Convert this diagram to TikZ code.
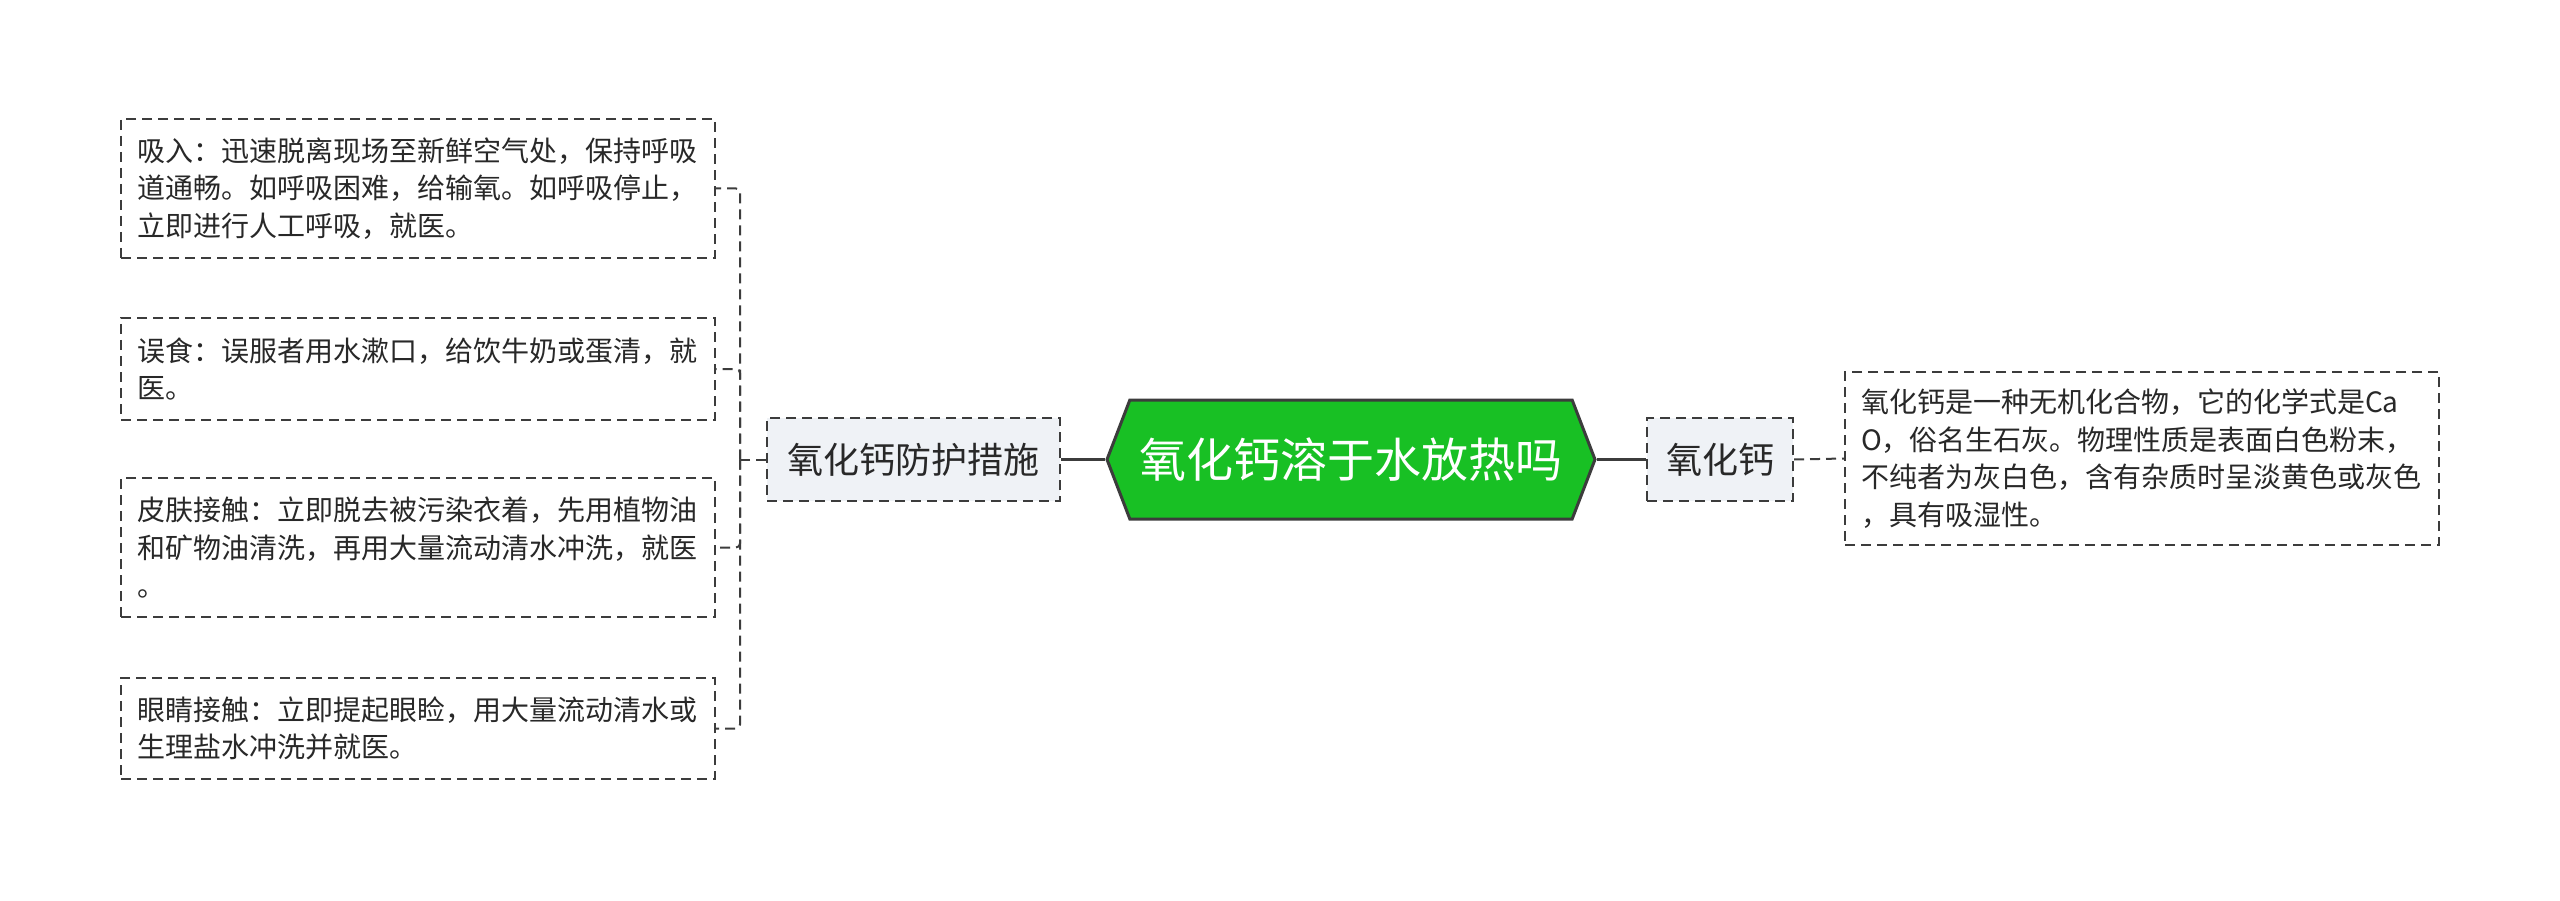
\documentclass[tikz,border=0pt]{standalone}
\usepackage{fontspec}
\setmainfont{Noto Sans CJK SC}
\usetikzlibrary{shapes.symbols}
\definecolor{hexgreen}{RGB}{24,192,36}
\definecolor{edgegray}{RGB}{60,60,60}
\definecolor{textgray}{RGB}{40,40,40}
\definecolor{branchfill}{RGB}{239,242,246}
\begin{document}
\begin{tikzpicture}[x=1pt,y=-1pt,
  hexnode/.style={signal, signal to=east and west, signal pointer angle=138,
    fill=hexgreen, draw=edgegray, line width=3pt, text=white,
    font=\fontsize{47}{56}\selectfont, minimum width=488pt, minimum height=119pt, inner sep=0pt},
  branchnode/.style={draw=edgegray, dash pattern=on 10pt off 6pt, line width=2pt,
    fill=branchfill, text=textgray, font=\fontsize{36}{44}\selectfont,
    minimum height=83pt, inner sep=0pt},
  leafnode/.style={draw=edgegray, dash pattern=on 10pt off 6pt, line width=2pt,
    fill=white, text=textgray, font=\fontsize{28}{37.6}\selectfont,
    text width=562pt, inner xsep=16pt, inner ysep=0pt, align=left},
  solidconn/.style={draw=edgegray, line width=3pt},
  dashconn/.style={draw=edgegray, line width=2pt, dash pattern=on 10pt off 6pt, rounded corners=4pt}
]
\fill[white] (0,0) rectangle (2560,901);
\useasboundingbox (0,0) rectangle (2560,901);

\node[hexnode] (root) at (1351,459.5) {氧化钙溶于水放热吗};
\node[branchnode, minimum width=293pt] (lnode) at (913.5,459.5) {氧化钙防护措施};
\node[branchnode, minimum width=146pt] (rnode) at (1720,459.5) {氧化钙};

\node[leafnode, minimum height=139pt] (leafa) at (418,188.5) {吸入：迅速脱离现场至新鲜空气处，保持呼吸\\道通畅。如呼吸困难，给输氧。如呼吸停止，\\立即进行人工呼吸，就医。};
\node[leafnode, minimum height=102pt] (leafb) at (418,369) {误食：误服者用水漱口，给饮牛奶或蛋清，就\\医。};
\node[leafnode, minimum height=139pt] (leafc) at (418,547.5) {皮肤接触：立即脱去被污染衣着，先用植物油\\和矿物油清洗，再用大量流动清水冲洗，就医\\。};
\node[leafnode, minimum height=101pt] (leafd) at (418,728.5) {眼睛接触：立即提起眼睑，用大量流动清水或\\生理盐水冲洗并就医。};
\node[leafnode, minimum height=173pt] (rleaf) at (2142,458.5) {氧化钙是一种无机化合物，它的化学式是Ca\\O，俗名生石灰。物理性质是表面白色粉末，\\不纯者为灰白色，含有杂质时呈淡黄色或灰色\\，具有吸湿性。};

\draw[solidconn] (root.west) -- (lnode.east);
\draw[solidconn] (root.east) -- (rnode.west);
\draw[dashconn] (rnode.east) -- (rleaf.west);

\coordinate (bus) at (740,459.5);
\draw[dashconn] (lnode.west) -- (bus);
\draw[dashconn] (bus) |- (leafa.east);
\draw[dashconn] (bus) |- (leafb.east);
\draw[dashconn] (bus) |- (leafc.east);
\draw[dashconn] (bus) |- (leafd.east);
\end{tikzpicture}
\end{document}
